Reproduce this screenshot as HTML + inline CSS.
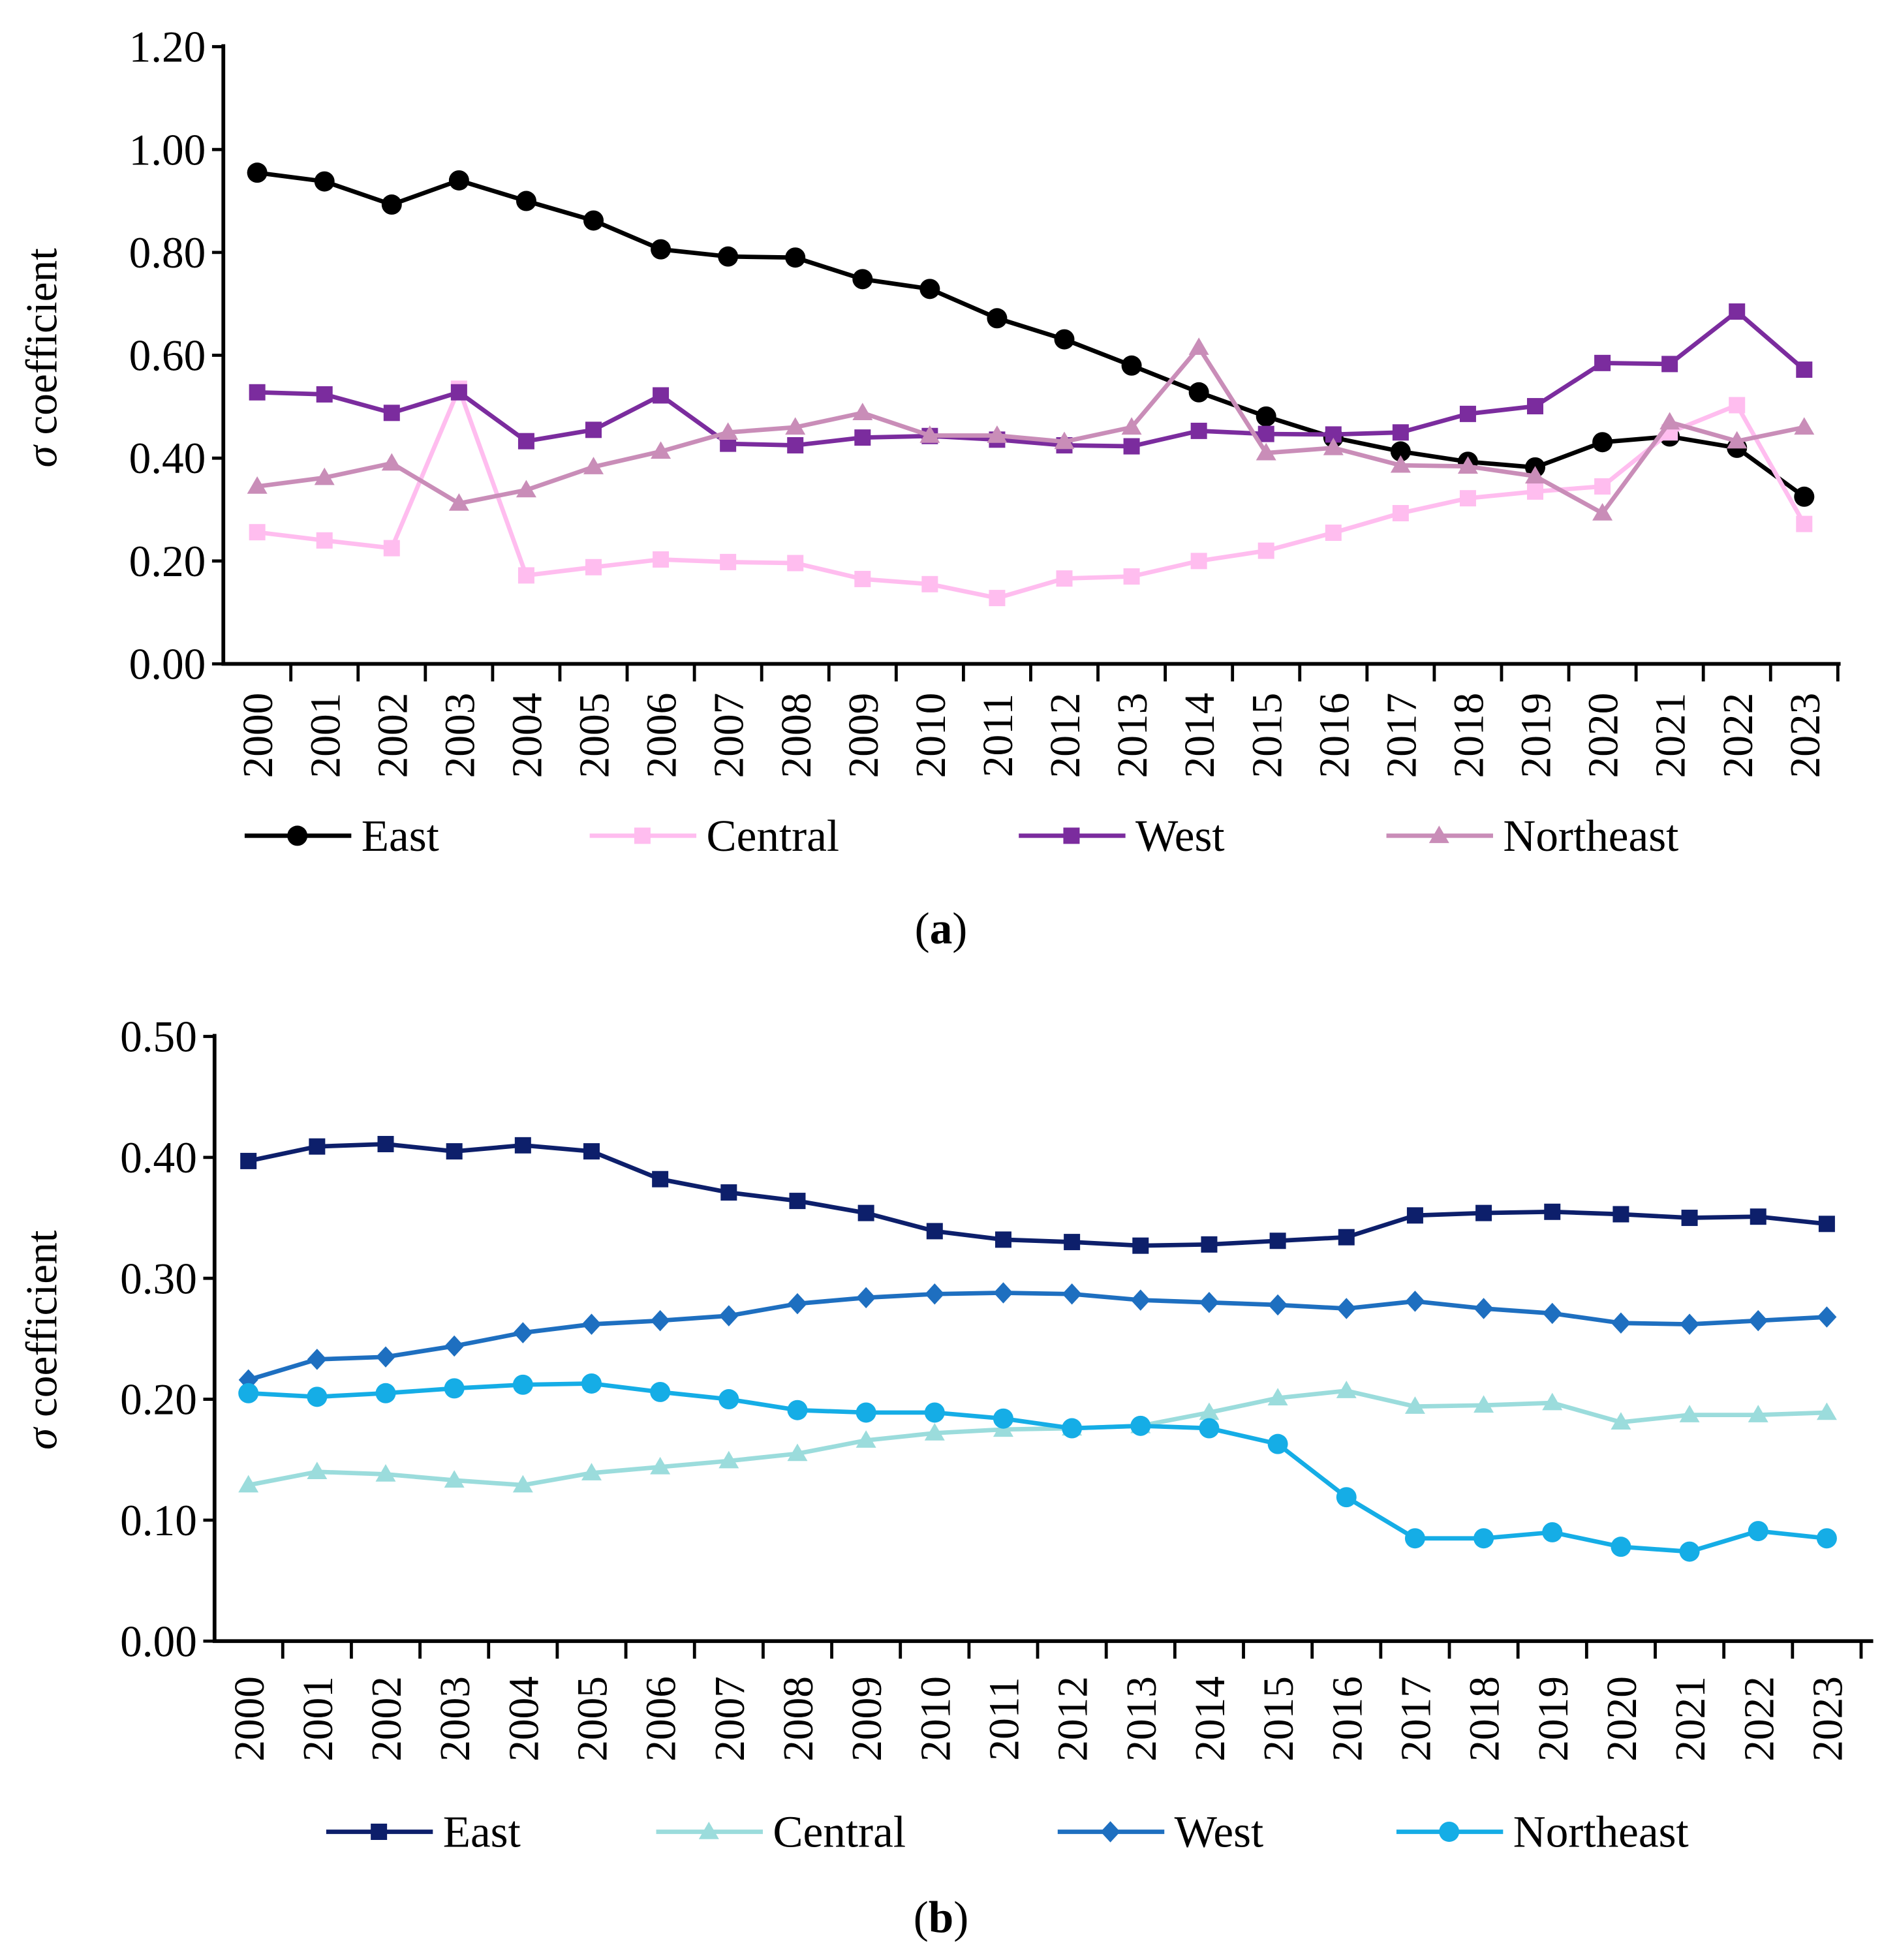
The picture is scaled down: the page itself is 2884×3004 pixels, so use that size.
<!DOCTYPE html>
<html><head><meta charset="utf-8"><style>html,body{margin:0;padding:0;background:#fff}svg{display:block}</style></head>
<body>
<svg id="root" xmlns="http://www.w3.org/2000/svg" width="2884" height="3004" viewBox="0 0 1500 1562" font-family="'Liberation Serif', serif">
<g id="ca"></g>
<g id="cb"></g>
</svg>
<script>
const years = ['2000','2001','2002','2003','2004','2005','2006','2007','2008','2009','2010','2011','2012','2013','2014','2015','2016','2017','2018','2019','2020','2021','2022','2023'];
const ticksA = ['0.00','0.20','0.40','0.60','0.80','1.00','1.20'];
const ticksB = ['0.00','0.10','0.20','0.30','0.40','0.50'];
const aEast = [.955,.938,.893,.940,.900,.862,.806,.792,.790,.748,.729,.672,.631,.580,.528,.481,.440,.413,.393,.382,.431,.442,.420,.325];
const aCentral = [.256,.240,.225,.535,.172,.188,.203,.198,.196,.165,.155,.128,.166,.170,.200,.220,.255,.293,.322,.335,.345,.450,.503,.272];
const aWest = [.528,.524,.488,.528,.433,.455,.522,.428,.425,.440,.443,.436,.425,.423,.453,.447,.446,.450,.486,.501,.585,.583,.685,.572];
const aNortheast = [.345,.362,.390,.312,.338,.383,.413,.450,.460,.488,.444,.444,.432,.460,.615,.410,.420,.386,.384,.365,.293,.470,.433,.460];
const bEast = [.397,.409,.411,.405,.410,.405,.382,.371,.364,.354,.339,.332,.330,.327,.328,.331,.334,.352,.354,.355,.353,.350,.351,.345];
const bCentral = [.129,.140,.138,.133,.129,.139,.144,.149,.155,.166,.172,.175,.176,.178,.189,.201,.207,.194,.195,.197,.181,.187,.187,.189];
const bWest = [.216,.233,.235,.244,.255,.262,.265,.269,.279,.284,.287,.288,.287,.282,.280,.278,.275,.281,.275,.271,.263,.262,.265,.268];
const bNortheast = [.205,.202,.205,.209,.212,.213,.206,.200,.191,.189,.189,.184,.176,.178,.176,.163,.119,.085,.085,.090,.078,.074,.091,.085];

const NS='http://www.w3.org/2000/svg';
function mk(parent,tag,attrs,text){const e=document.createElementNS(NS,tag);for(const k in attrs)e.setAttribute(k,attrs[k]);if(text!=null)e.textContent=text;parent.appendChild(e);return e;}
function marker(g,type,x,y,color,s){
  let m;
  if(type==='circle') m=mk(g,'circle',{cx:x,cy:y,r:s*0.62,fill:color});
  else if(type==='square') m=mk(g,'rect',{x:x-s/2,y:y-s/2,width:s,height:s,fill:color});
  else if(type==='tri') m=mk(g,'polygon',{points:`${x},${y-s*0.62} ${x-s*0.62},${y+s*0.45} ${x+s*0.62},${y+s*0.45}`,fill:color});
  else m=mk(g,'polygon',{points:`${x},${y-s*0.65} ${x+s*0.6},${y} ${x},${y+s*0.65} ${x-s*0.6},${y}`,fill:color});
  return m;
}
function chart(g,cfg){
  const X=i=>cfg.x0+i*cfg.step;
  const Y=v=>cfg.y0-(v/cfg.ymax)*(cfg.y0-cfg.ytop);
  const ax=mk(g,'path',{d:`M${cfg.ax},${cfg.ytop-2} V${cfg.y0} H${cfg.xr}`,stroke:'#000','stroke-width':3,fill:'none'});
  
  
  cfg.ticks.forEach((t,i)=>{
    const v=i*cfg.ymax/(cfg.ticks.length-1), y=Y(v);
    mk(g,'line',{x1:cfg.ax-9,x2:cfg.ax,y1:y,y2:y,stroke:'#000','stroke-width':2.5});
    const tl=mk(g,'text',{x:cfg.ax-14,y:y+12,'text-anchor':'end','font-size':35},t);
    
    
  });
  for(let i=1;i<=years.length;i++){
    const x=cfg.x0+(i-0.5)*cfg.step;
    mk(g,'line',{x1:x,x2:x,y1:cfg.y0,y2:cfg.y0+14,stroke:'#000','stroke-width':2.5});
  }
  years.forEach((yr,i)=>{
    const x=X(i);
    const tl=mk(g,'text',{x:0,y:0,transform:`translate(${x+12},${cfg.y0+cfg.yl}) rotate(-90)`,'font-size':34,'text-anchor':'middle'},yr);
    
    
  });
  const tt=mk(g,'text',{x:0,y:0,transform:`translate(${cfg.titleX},${cfg.titleY}) rotate(-90)`,'font-size':35,'text-anchor':'middle'});
  
  
  mk(tt,'tspan',{'font-style':'italic'},'σ');
  mk(tt,'tspan',{},' coefficient');
  cfg.series.forEach(s=>{
    const sg=mk(g,'g',{});
    
    
    mk(sg,'polyline',{points:s.data.map((v,i)=>`${X(i)},${Y(v)}`).join(' '),fill:'none',stroke:s.color,'stroke-width':3.5,'stroke-linejoin':'round'});
    s.data.forEach((v,i)=>{const m=marker(sg,s.m,X(i),Y(v),s.color,13);
      
      });
    const lg=mk(g,'g',{});
    
    
    mk(lg,'line',{x1:s.lx,x2:s.lx+85,y1:cfg.ly,y2:cfg.ly,stroke:s.color,'stroke-width':3.5});
    marker(lg,s.m,s.lx+42,cfg.ly,s.color,13);
    mk(lg,'text',{x:s.lx+93,y:cfg.ly+12,'font-size':36},s.name);
  });
  const cap=mk(g,'text',{x:750,y:cfg.capY,'text-anchor':'middle','font-size':36});
  
  
  mk(cap,'tspan',{},'(');mk(cap,'tspan',{'font-weight':'bold'},cfg.cap);mk(cap,'tspan',{},')');
}
chart(document.getElementById('ca'),{x0:205,step:(1438-205)/23,ax:178,xr:1467,y0:529,ytop:37,ymax:1.2,ticks:ticksA,yl:57,titleX:45,titleY:285,ly:666,capY:752,cap:'a',
  series:[{name:'East',data:aEast,color:'#000000',m:'circle',lx:195},
          {name:'Central',data:aCentral,color:'#FFBDEF',m:'square',lx:470},
          {name:'West',data:aWest,color:'#7B2C9E',m:'square',lx:812},
          {name:'Northeast',data:aNortheast,color:'#C98DB8',m:'tri',lx:1105}]});
chart(document.getElementById('cb'),{x0:198,step:(1456-198)/23,ax:171,xr:1493,y0:1308,ytop:826,ymax:0.5,ticks:ticksB,yl:62,titleX:45,titleY:1068,ly:1460,capY:1540,cap:'b',
  series:[{name:'East',data:bEast,color:'#0D1F6B',m:'square',lx:260},
          {name:'Central',data:bCentral,color:'#9BDCDC',m:'tri',lx:523},
          {name:'West',data:bWest,color:'#1E6FC0',m:'diamond',lx:843},
          {name:'Northeast',data:bNortheast,color:'#15ADE6',m:'circle',lx:1113}]});
</script>
</body></html>
